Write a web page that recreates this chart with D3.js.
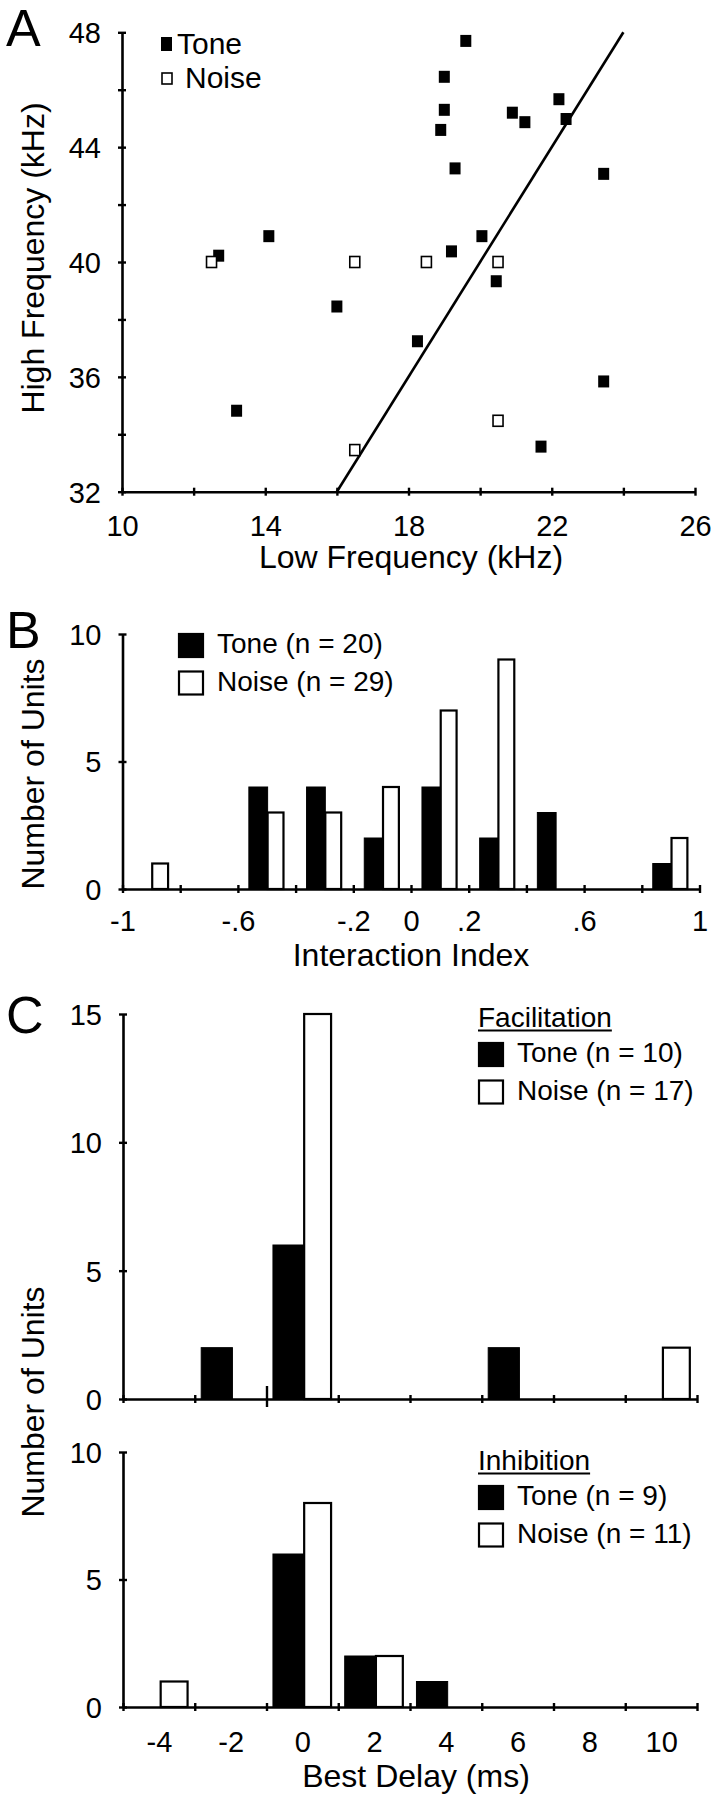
<!DOCTYPE html>
<html><head><meta charset="utf-8">
<script src="https://cdn.jsdelivr.net/npm/d3@7"></script>
<style>
body{margin:0;background:#fff;}
text{font-family:"Liberation Sans",Arial,Helvetica,sans-serif;fill:#000;}
</style></head><body>
<svg id="chart" width="717" height="1800"></svg>
<script>
// ---------- Panel A data ----------
const toneLow  = [19.6, 19.0, 19.0, 18.9, 19.3, 20.9, 21.25, 22.2, 22.4, 23.45, 14.1, 12.7, 20.05, 19.2, 20.45, 16.0, 18.25, 13.2, 23.45, 21.7];
const toneHigh = [47.7, 46.45, 45.3, 44.6, 43.26, 45.2, 44.87, 45.67, 44.98, 43.07, 40.9, 40.22, 40.9, 40.37, 39.33, 38.45, 37.24, 34.82, 35.84, 33.57];
const noiseLow  = [12.5, 16.5, 18.5, 20.5, 20.5, 16.5];
const noiseHigh = [40, 40, 40, 40, 34.47, 33.45];
const lineLow  = [16, 24];
const lineHigh = [32, 48];
const aXTicks = [10,12,14,16,18,20,22,24,26];
const aXLabels = [10,14,18,22,26];
const aYTicks = [32,34,36,38,40,42,44,46,48];
const aYLabels = [32,36,40,44,48];

// ---------- Panel B data ----------
const bCenters = [-0.9, -0.5, -0.3, -0.1, 0.1, 0.3, 0.5, 0.9];
const bTone    = [0, 4, 4, 2, 4, 2, 3, 1];
const bNoise   = [1, 3, 3, 4, 7, 9, 0, 2];
const bXTicks  = [-1,-0.8,-0.6,-0.4,-0.2,0,0.2,0.4,0.6,0.8,1];
const bXLabels = {"-1":"-1","-0.6":"-.6","-0.2":"-.2","0":"0","0.2":".2","0.6":".6","1":"1"};
const bYTicks  = [0,5,10];

// ---------- Panel C data ----------
const cCenters = [-4, -2, 0, 2, 4, 6, 10];
const facTone  = [0, 2, 6, 0, 0, 2, 0];
const facNoise = [0, 0, 15, 0, 0, 0, 2];
const inhTone  = [0, 0, 6, 2, 1, 0, 0];
const inhNoise = [1, 0, 8, 2, 0, 0, 0];
const cXTicks  = [-5,-3,-1,1,3,5,7,9,11];
const cXLabels = [-4,-2,0,2,4,6,8,10];
const cUpYTicks = [0,5,10,15];
const cLoYTicks = [0,5,10];

const svg = d3.select("#chart");
const FS_TICK = 29, FS_TITLE = 32, FS_LEG = 28, FS_PANEL = 52, FS_LEGA = 30;

function dropEmpty(g) {
  g.selectAll(".tick text").filter(function(){ return this.textContent === ""; }).remove();
}
function yAxis(scale, x, vals, fmt) {
  const ax = d3.axisLeft(scale).tickValues(vals).tickSizeInner(4).tickSizeOuter(0).tickPadding(17).tickFormat(fmt);
  const g = svg.append("g").attr("transform", `translate(${x},0)`).call(ax);
  g.select(".domain").attr("stroke","#000").attr("stroke-width",2.6);
  g.selectAll(".tick line").attr("x1",4).attr("stroke","#000").attr("stroke-width",2.4);
  g.selectAll(".tick text").attr("font-size",FS_TICK).attr("dy","0.36em");
  dropEmpty(g);
  return g;
}
function xAxis(scale, y, vals, fmt, pad) {
  const ax = d3.axisBottom(scale).tickValues(vals).tickSizeInner(4).tickSizeOuter(0).tickPadding(pad || 19.5).tickFormat(fmt);
  const g = svg.append("g").attr("transform", `translate(0,${y})`).call(ax);
  g.select(".domain").attr("stroke","#000").attr("stroke-width",2.6);
  g.selectAll(".tick line").attr("y1",-4).attr("stroke","#000").attr("stroke-width",2.4);
  g.selectAll(".tick text").attr("font-size",FS_TICK);
  dropEmpty(g);
  return g;
}
function panelLetter(t, x, y) {
  svg.append("text").attr("x",x).attr("y",y).attr("font-size",FS_PANEL).text(t);
}
function yTitle(t, x, y) {
  svg.append("text").attr("transform",`translate(${x},${y}) rotate(-90)`).attr("text-anchor","middle")
    .attr("font-size",FS_TITLE).text(t);
}
function xTitle(t, x, y) {
  svg.append("text").attr("x",x).attr("y",y).attr("text-anchor","middle").attr("font-size",FS_TITLE).text(t);
}

// ================= Panel A =================
const xA = d3.scaleLinear([10,26],[122,695]);
const yA = d3.scaleLinear([32,48],[491.7,32.3]);
yAxis(yA, 122, aYTicks, d => aYLabels.includes(d) ? String(d) : "");
xAxis(xA, 491.7, aXTicks, d => aXLabels.includes(d) ? String(d) : "");
panelLetter("A", 6, 46);
yTitle("High Frequency (kHz)", 44, 258);
xTitle("Low Frequency (kHz)", 411, 568);

const lineData = lineLow.map((d,i)=>[d, lineHigh[i]]);
svg.append("path").attr("d", d3.line().x(d=>xA(d[0])).y(d=>yA(d[1]))(lineData))
  .attr("stroke","#000").attr("stroke-width",2.6).attr("fill","none");

const tonePts = toneLow.map((d,i)=>({x:d, y:toneHigh[i]}));
const noisePts = noiseLow.map((d,i)=>({x:d, y:noiseHigh[i]}));
svg.append("g").selectAll("rect").data(tonePts).join("rect")
  .attr("x",d=>xA(d.x)-5.5).attr("y",d=>yA(d.y)-6).attr("width",11).attr("height",12).attr("fill","#000");
svg.append("g").selectAll("rect").data(noisePts).join("rect")
  .attr("x",d=>xA(d.x)-5).attr("y",d=>yA(d.y)-5.5).attr("width",10).attr("height",11)
  .attr("fill","#fff").attr("stroke","#000").attr("stroke-width",1.6);

// legend A
svg.append("rect").attr("x",161).attr("y",37).attr("width",11).attr("height",14).attr("fill","#000");
svg.append("text").attr("x",177).attr("y",54).attr("font-size",FS_LEGA).text("Tone");
svg.append("rect").attr("x",162).attr("y",73).attr("width",10).attr("height",11).attr("fill","#fff").attr("stroke","#000").attr("stroke-width",1.6);
svg.append("text").attr("x",185).attr("y",88).attr("font-size",FS_LEGA).text("Noise");

// ================= Panel B =================
const xB = d3.scaleLinear([-1,1],[122.5,699.5]);
const yB = d3.scaleLinear([0,10],[889,634]);
const bBars = [];
bCenters.forEach((c,i)=>{
  if (bTone[i] > 0) bBars.push({x0:c-0.062, x1:c+0.003, v:bTone[i], kind:"tone"});
  if (bNoise[i] > 0) bBars.push({x0:c+0.003, x1:c+0.058, v:bNoise[i], kind:"noise"});
});
svg.append("g").selectAll("rect").data(bBars).join("rect")
  .attr("x",d=>xB(d.x0)).attr("width",d=>xB(d.x1)-xB(d.x0))
  .attr("y",d=>yB(d.v)).attr("height",d=>yB(0)-yB(d.v))
  .attr("fill",d=>d.kind==="tone"?"#000":"#fff").attr("stroke","#000")
  .attr("stroke-width",d=>d.kind==="tone"?1:2.2);
yAxis(yB, 122.5, bYTicks, d => String(d));
xAxis(xB, 889, bXTicks, d => { const k = String(Math.round(d*10)/10); return bXLabels[k] !== undefined ? bXLabels[k] : ""; }, 17.5);
panelLetter("B", 6, 648);
yTitle("Number of Units", 44, 774);
xTitle("Interaction Index", 411, 966);

function legend(x, yTop, items, title) {
  let y = yTop;
  if (title) {
    const t = svg.append("text").attr("x",x).attr("y",y+20).attr("font-size",FS_LEG).text(title);
    const w = t.node().getComputedTextLength();
    svg.append("line").attr("x1",x).attr("x2",x+w).attr("y1",y+23.5).attr("y2",y+23.5).attr("stroke","#000").attr("stroke-width",2);
    y += 35;
  }
  items.forEach((it,i)=>{
    const yy = y + i*37.5;
    svg.append("rect").attr("x",x+1).attr("y",yy+1).attr("width",24).attr("height",23)
      .attr("fill",it.fill).attr("stroke","#000").attr("stroke-width",2.2);
    svg.append("text").attr("x",x+39).attr("y",yy+20).attr("font-size",FS_LEG).text(it.label);
  });
}
legend(178, 633, [{fill:"#000",label:"Tone (n = 20)"},{fill:"#fff",label:"Noise (n = 29)"}]);

// ================= Panel C =================
const xC = d3.scaleLinear([-5,11],[123,697]);
const yCu = d3.scaleLinear([0,15],[1399,1014]);
const yCl = d3.scaleLinear([0,10],[1707,1452]);
function cBars(yS, tone, noise) {
  const bars = [];
  cCenters.forEach((c,i)=>{
    if (tone[i] > 0) bars.push({x0:c-0.82, x1:c+0.05, v:tone[i], kind:"tone"});
    if (noise[i] > 0) bars.push({x0:c+0.05, x1:c+0.8, v:noise[i], kind:"noise"});
  });
  svg.append("g").selectAll("rect").data(bars).join("rect")
    .attr("x",d=>xC(d.x0)).attr("width",d=>xC(d.x1)-xC(d.x0))
    .attr("y",d=>yS(d.v)).attr("height",d=>yS(0)-yS(d.v))
    .attr("fill",d=>d.kind==="tone"?"#000":"#fff").attr("stroke","#000")
    .attr("stroke-width",d=>d.kind==="tone"?1:2.2);
}
cBars(yCu, facTone, facNoise);
cBars(yCl, inhTone, inhNoise);
yAxis(yCu, 123, cUpYTicks, d => String(d));
yAxis(yCl, 123, cLoYTicks, d => String(d));
const upX = xAxis(xC, 1399, cXTicks, () => "");
upX.selectAll(".tick").filter(d => d === -1).select("line").attr("y1",-13).attr("y2",8);
xAxis(xC, 1707, cXTicks, () => "");
const lab = svg.append("g").attr("transform","translate(0,1707)")
  .call(d3.axisBottom(xC).tickValues(cXLabels).tickSize(0).tickPadding(24).tickFormat(d => String(d)));
lab.select(".domain").remove();
lab.selectAll(".tick text").attr("font-size",FS_TICK);
panelLetter("C", 6, 1033);
yTitle("Number of Units", 44, 1402);
xTitle("Best Delay (ms)", 416, 1787);

legend(478, 1007, [{fill:"#000",label:"Tone (n = 10)"},{fill:"#fff",label:"Noise (n = 17)"}], "Facilitation");
legend(478, 1450, [{fill:"#000",label:"Tone (n = 9)"},{fill:"#fff",label:"Noise (n = 11)"}], "Inhibition");
</script>
</body></html>
